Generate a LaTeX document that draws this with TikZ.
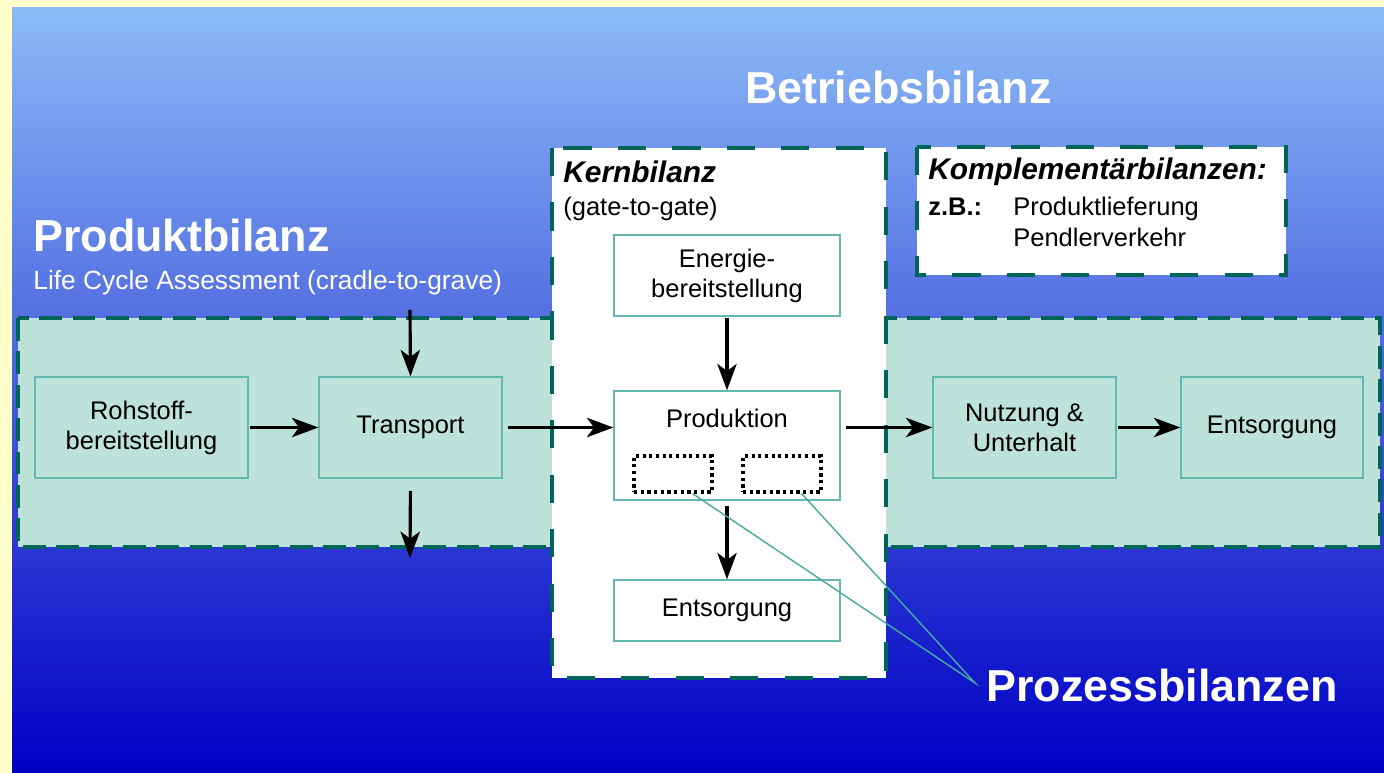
\documentclass[tikz,border=0pt]{standalone}
\usepackage{fontspec}
\setmainfont{Liberation Sans}
\usetikzlibrary{arrows.meta}

\definecolor{gelb}{RGB}{255,255,204}
\definecolor{hellblau}{RGB}{140,186,246}
\definecolor{dunkelblau}{RGB}{0,0,196}
\definecolor{bandfill}{RGB}{189,226,218}
\definecolor{rand}{RGB}{0,100,88}
\definecolor{kastenrand}{RGB}{100,185,175}
\definecolor{zeigerfarbe}{RGB}{70,170,160}

\begin{document}
\begin{tikzpicture}[
        x=0.02cm, y=-0.02cm,
        font=\fontsize{14.5}{17}\selectfont,
        band/.style={draw=rand, line width=2pt, dash pattern=on 13pt off 6pt, fill=bandfill},
        bilanz/.style={draw=rand, line width=2.8pt, dash pattern=on 16pt off 15pt, fill=white},
        kasten/.style={draw=kastenrand, line width=0.8pt, align=center, inner sep=0pt},
        teil/.style={draw=black, line width=1.8pt, dash pattern=on 1.8pt off 2pt, inner sep=0pt,
            minimum width=1.56cm, minimum height=0.72cm},
        fluss/.style={-{Stealth[length=15pt, width=11pt, inset=4pt]}, line width=1.8pt, black},
        zeiger/.style={draw=zeigerfarbe, line width=0.8pt},
        schrift/.style={anchor=base west, inner sep=0pt},
        titel/.style={schrift, white, font=\fontsize{25.5}{30}\selectfont\bfseries},
        kursiv/.style={schrift, font=\fontsize{17}{20}\selectfont\bfseries\itshape}
    ]
        % --- Hintergrund ---
        \fill[gelb] (0,0) rectangle (1384,773);
        \shade[top color=hellblau, bottom color=dunkelblau] (12,8) rectangle (1384,773);

        % --- Produktbilanz (ganzer Lebensweg) ---
        \draw[band] (18,318) rectangle (1380,547);
        \node[titel] (produktbilanz) at (33,252) {Produktbilanz};
        \node[schrift, white, font=\fontsize{15}{18}\selectfont] (lca) at (33,290)
            {Life Cycle Assessment (cradle-to-grave)};

        \node[kasten, fill=bandfill, minimum width=4.26cm, minimum height=2.02cm] (rohstoff)
            at (141.5,427.5) {Rohstoff-\\bereitstellung};
        \node[kasten, fill=bandfill, minimum width=3.66cm, minimum height=2.02cm] (transport)
            at (410.5,427.5) {Transport};
        \node[kasten, fill=bandfill, minimum width=3.66cm, minimum height=2.02cm] (nutzung)
            at (1024.5,427.5) {Nutzung \&\\Unterhalt};
        \node[kasten, fill=bandfill, minimum width=3.64cm, minimum height=2.02cm] (entsorgung)
            at (1272,427.5) {Entsorgung};

        % --- Betriebsbilanz ---
        \node[titel] (betriebsbilanz) at (745,104) {Betriebsbilanz};

        % Kernbilanz
        \draw[bilanz] (552,148) rectangle (886,678);
        \node[kursiv] (kern) at (563,183) {Kernbilanz};
        \node[schrift] (gtg) at (563,216) {(gate-to-gate)};

        \node[kasten, fill=white, minimum width=4.52cm, minimum height=1.62cm] (energie)
            at (727,275.5) {Energie-\\bereitstellung};
        \node[kasten, fill=white, minimum width=4.52cm, minimum height=2.18cm] (produktion)
            at (727,445.5) {};
        \node (produktion-text) at (727,418) {Produktion};
        \node[teil] (teilA) at (673,474) {};
        \node[teil] (teilB) at (782,474) {};
        \node[kasten, fill=white, minimum width=4.52cm, minimum height=1.22cm] (entsorgungK)
            at (727,610.5) {Entsorgung};

        % Komplementaerbilanzen
        \draw[bilanz] (917,147) rectangle (1286,275);
        \node[kursiv] (kompl) at (928,180) {Komplementärbilanzen:};
        \node[schrift, font=\fontsize{14.5}{17}\selectfont\bfseries] (zb) at (928,216) {z.B.:};
        \node[schrift] (lieferung) at (1013,216) {Produktlieferung};
        \node[schrift] (pendler) at (1013,247) {Pendlerverkehr};

        % --- Stoffflüsse ---
        \coordinate (zufuhr) at (410,310);
        \coordinate (abfuhr) at (410,558);
        \draw[fluss, shorten <=1pt] (rohstoff) -- (transport);
        \draw[fluss, shorten <=3pt] (transport.east) -- (transport.east -| produktion.west);
        \draw[fluss, shorten <=3pt] (nutzung.west -| produktion.east) -- (nutzung.west);
        \draw[fluss, shorten <=1pt] (nutzung) -- (entsorgung);
        \draw[fluss] (zufuhr) -- (transport.north);
        \draw[fluss, shorten <=7pt] (transport.south) -- (abfuhr);
        \draw[fluss, shorten <=1pt] (energie) -- (produktion);
        \draw[fluss, shorten <=3pt] (produktion) -- (entsorgungK);

        % --- Prozessbilanzen ---
        \coordinate (prozess) at (975,683);
        \draw[zeiger] (teilA.-45) -- (prozess) -- (teilB.-45);
        \node[titel] (prozessbilanzen) at (986,702) {Prozessbilanzen};
    \end{tikzpicture}
\end{document}
